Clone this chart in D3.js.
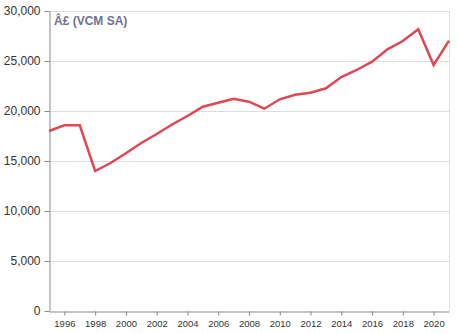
<!DOCTYPE html>
<html><head><meta charset="utf-8">
<script src="https://cdn.jsdelivr.net/npm/d3@7"></script>
<style>body{margin:0;background:#fff}svg{display:block}</style>
</head><body><div id="chart"></div>
<script>
const years = [1995,1996,1997,1998,1999,2000,2001,2002,2003,2004,2005,2006,2007,2008,2009,2010,2011,2012,2013,2014,2015,2016,2017,2018,2019,2020,2021];
const values = [18000,18570,18570,14000,14800,15780,16800,17700,18650,19500,20430,20830,21220,20930,20230,21170,21630,21830,22270,23400,24100,24930,26170,27000,28170,24600,27030];
const yTicks = [0,5000,10000,15000,20000,25000,30000];
const xTicks = [1996,1998,2000,2002,2004,2006,2008,2010,2012,2014,2016,2018,2020];
const unitLabel = "Â£ (VCM SA)";

const W = 457, H = 333;
const m = {left:49, right:8, top:11, bottom:22};
const svg = d3.select("#chart").append("svg").attr("width", W).attr("height", H);
const x = d3.scaleLinear().domain([1995, 2021]).range([m.left, W - m.right]);
const y = d3.scaleLinear().domain([0, 30000]).range([H - m.bottom, m.top]);

// gridlines
svg.append("g").selectAll("line").data(yTicks.filter(d => d > 0)).join("line")
  .attr("x1", m.left).attr("x2", W - m.right)
  .attr("y1", d => y(d) + 0.5).attr("y2", d => y(d) + 0.5)
  .attr("stroke", "#dddddd").attr("stroke-width", 1);
// right border
svg.append("line").attr("x1", W - m.right + 0.5).attr("x2", W - m.right + 0.5)
  .attr("y1", m.top).attr("y2", H - m.bottom).attr("stroke", "#dddddd");

// axes
const yAxis = svg.append("g").attr("transform", `translate(${m.left + 0.5},0)`)
  .call(d3.axisLeft(y).tickValues(yTicks).tickFormat(d3.format(",")).tickSize(5).tickSizeOuter(0));
yAxis.selectAll("text").attr("font-size", 12).attr("font-family", "Liberation Sans, Arial, sans-serif").attr("fill", "#333").attr("dx", "-1");
const xAxis = svg.append("g").attr("transform", `translate(0,${H - m.bottom + 0.5})`)
  .call(d3.axisBottom(x).tickValues(xTicks).tickFormat(d3.format("d")).tickSize(4).tickSizeOuter(0));
xAxis.selectAll("text").attr("font-size", 9.5).attr("font-family", "Liberation Sans, Arial, sans-serif").attr("fill", "#333").attr("dy", "0.9em");
svg.selectAll(".domain, .tick line").attr("stroke", "#888");

// line
svg.append("path").datum(years.map((yr, i) => [yr, values[i]]))
  .attr("fill", "none").attr("stroke", "#e04653").attr("stroke-width", 2.5)
  .attr("stroke-linejoin", "miter")
  .attr("d", d3.line().x(d => x(d[0])).y(d => y(d[1])));

svg.append("text").attr("x", 54).attr("y", 25).text(unitLabel)
  .attr("font-family", "Liberation Sans, Arial, sans-serif").attr("font-size", 12)
  .attr("font-weight", "bold").attr("fill", "#707190");
</script></body></html>
